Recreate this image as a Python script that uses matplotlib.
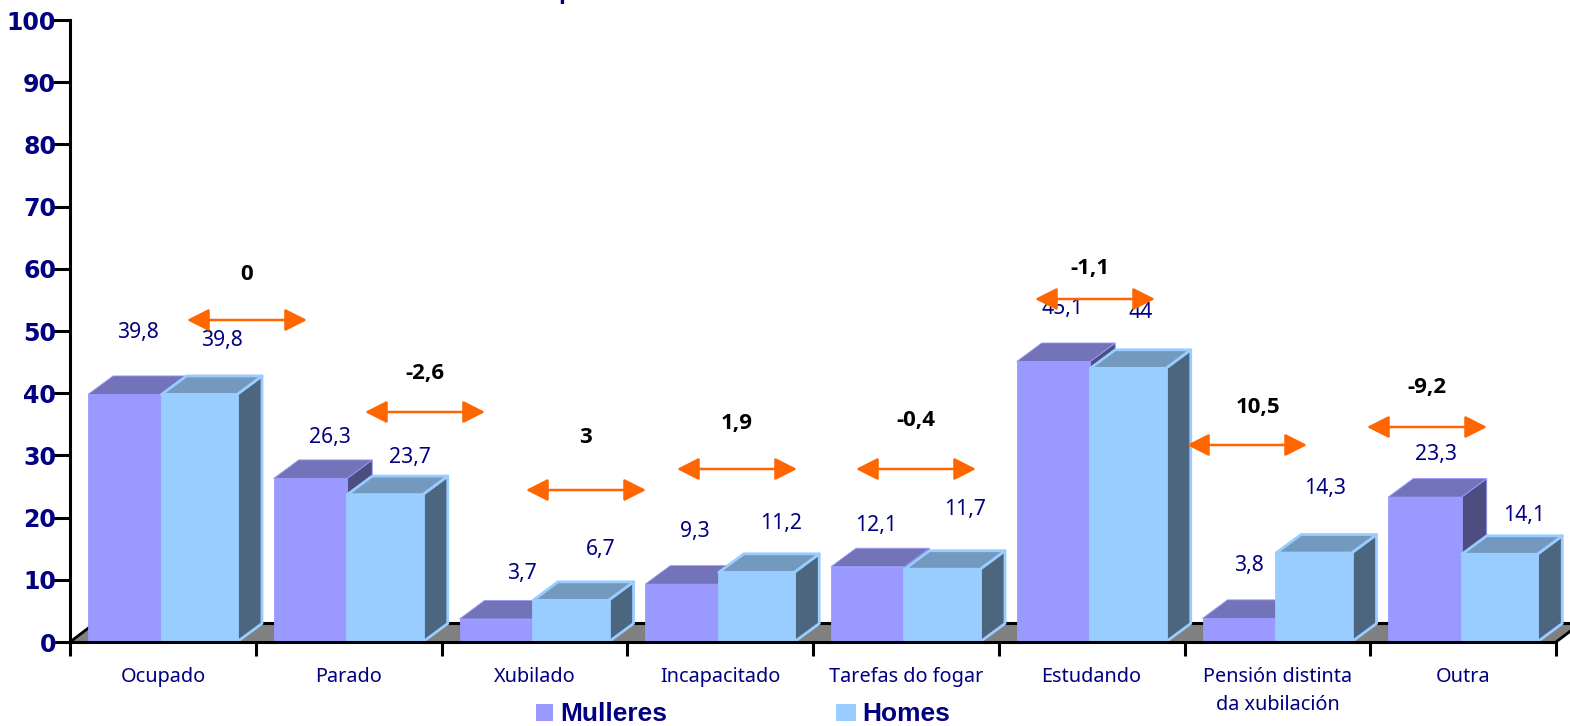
import matplotlib
matplotlib.use('Agg')
import matplotlib.pyplot as plt
from matplotlib.patches import Polygon, Rectangle
import numpy as np

# values
categories = ['Ocupado', 'Parado', 'Xubilado', 'Incapacitado', 'Tarefas do fogar',
              'Estudando', 'Pensión distinta\nda xubilación', 'Outra']
mulleres = [39.8, 26.3, 3.7, 9.3, 12.1, 45.1, 3.8, 23.3]
homes = [39.8, 23.7, 6.7, 11.2, 11.7, 44, 14.3, 14.1]
diferenza = [0, -2.6, 3, 1.9, -0.4, -1.1, 10.5, -9.2]

# label positions, in reference pixels
mulleres_pos = [(138, 332), (330, 437), (522, 573), (695, 531), (876, 525), (1063, 308), (1249, 566), (1436, 454)]
homes_pos = [(222, 340), (410, 457), (601, 549), (781, 524), (965, 510), (1141, 312), (1325, 488), (1524, 516)]
dif_pos = [(247, 274), (425, 373), (586, 437), (737, 424), (916, 420), (1090, 268), (1258, 407), (1427, 387)]
arrow_pos = [(247, 320), (425, 412), (586, 490), (737, 469), (916, 469), (1095, 299), (1247, 445), (1427, 427)]

W, H = 1570, 726
NAVY = '#000080'
ORANGE = '#FF6600'
FONT = 'Noto Sans'

fig = plt.figure(figsize=(W / 100, H / 100), dpi=100)
# axes box: x 70..1556, y 20..642 px
ax = fig.add_axes([70 / W, 1 - 642 / H, (1556 - 70) / W, (642 - 20) / H])
ax.set_xlim(0, 8)
ax.set_ylim(0, 100)

cat_px = (1556 - 70) / 8
y_px = (642 - 20) / 100


def dx(p):
    return p / cat_px


def dy(p):
    return p / y_px


def to_data(px, py):
    return (px - 70) / cat_px, (642 - py) / y_px


depth_x = dx(25)
depth_y = dy(18.5)


def box(x0, w, h, front, top, side, edge, lw, z):
    x1 = x0 + w
    ax.add_patch(Polygon([(x1, 0), (x1 + depth_x, depth_y), (x1 + depth_x, h + depth_y), (x1, h)],
                         fc=side, ec=edge, lw=lw, zorder=z, joinstyle='round', clip_on=False))
    ax.add_patch(Polygon([(x0, h), (x0 + depth_x, h + depth_y), (x1 + depth_x, h + depth_y), (x1, h)],
                         fc=top, ec=edge, lw=lw, zorder=z, joinstyle='round', clip_on=False))
    ax.add_patch(Rectangle((x0, 0), w, h, fc=front, ec=edge, lw=lw, zorder=z + 0.1, clip_on=False))


# floor
floor_h = dy(19)
ax.add_patch(Polygon([(0, 0), (dx(25), floor_h), (8 + dx(25), floor_h), (8, 0)],
                     fc='#808080', ec='none', zorder=1, clip_on=False))
ax.plot([0, dx(25)], [0, floor_h], color='black', lw=2, zorder=1.5, clip_on=False)
ax.plot([dx(25), 8 + dx(25)], [floor_h, floor_h], color='black', lw=2.2, zorder=1.5, clip_on=False)
ax.plot([8, 8 + dx(25)], [0, floor_h], color='black', lw=2, zorder=1.5, clip_on=False)

for i in range(len(categories)):
    base = 2 + i * 0.25
    box(i + dx(18), dx(73.5), mulleres[i], '#9999FF', '#7373B9', '#4D4D80', '#9999FF', 0.6, base)
    box(i + dx(91.5), dx(75.5), homes[i], '#99CCFF', '#7399BF', '#4D6680', '#99CCFF', 2, base + 0.1)

# value labels
for i in range(len(categories)):
    for vals, pos in [(mulleres, mulleres_pos), (homes, homes_pos)]:
        x, y = to_data(*pos[i])
        ax.text(x, y, f'{vals[i]:g}'.replace('.', ','), color=NAVY, fontsize=15.2, family=FONT,
                ha='center', va='center', zorder=8, clip_on=False)
    x, y = to_data(*dif_pos[i])
    ax.text(x, y, f'{diferenza[i]:g}'.replace('.', ','), color='black', fontsize=16, family='Open Sans',
            fontweight='bold', ha='center', va='center', zorder=8)
    x, y = to_data(*arrow_pos[i])
    ax.annotate('', xy=(x - dx(60), y), xytext=(x + dx(60), y),
                arrowprops=dict(arrowstyle='<|-|>,head_length=0.75,head_width=0.38', color=ORANGE, lw=1.8,
                                mutation_scale=18, shrinkA=0, shrinkB=0), zorder=9)

# axes
for s in ['top', 'right']:
    ax.spines[s].set_visible(False)
for s in ['left', 'bottom']:
    ax.spines[s].set_linewidth(2.2)
    ax.spines[s].set_zorder(7)
ax.set_yticks(np.arange(0, 101, 10))
ax.tick_params(axis='y', length=12, width=2.2, labelsize=17, labelcolor=NAVY, pad=-2)
for t in ax.get_yticklabels():
    t.set_fontweight('bold')
ax.set_xticks(np.arange(0, 9))
ax.set_xticklabels([])
ax.tick_params(axis='x', which='major', length=10, width=2.2)
ax.set_xticks(np.arange(8) + 0.5, minor=True)
ax.set_xticklabels(categories, minor=True, fontsize=14.3, color=NAVY, family=FONT, linespacing=1.55)
ax.tick_params(axis='x', which='minor', length=0, pad=18)

# legend
fig.patches.append(Rectangle((536 / W, 1 - 721 / H), 17 / W, 17 / H, fc='#9999FF', ec='none',
                             transform=fig.transFigure))
fig.patches.append(Rectangle((836 / W, 1 - 721 / H), 20 / W, 17 / H, fc='#99CCFF', ec='none',
                             transform=fig.transFigure))
fig.text(560 / W, 1 - 714 / H, 'Mulleres', color=NAVY, fontsize=19, fontweight='bold',
         family='Liberation Sans', ha='left', va='center')
fig.text(862 / W, 1 - 714 / H, 'Homes', color=NAVY, fontsize=19, fontweight='bold',
         family='Liberation Sans', ha='left', va='center')

# what is left of the cut off title
fig.text(566 / W, 1 + 1 / H, 'p', color=NAVY, fontsize=18, fontweight='bold',
         family='Liberation Sans', ha='center', va='baseline')

plt.savefig('out.png', dpi=100)
plt.close()
